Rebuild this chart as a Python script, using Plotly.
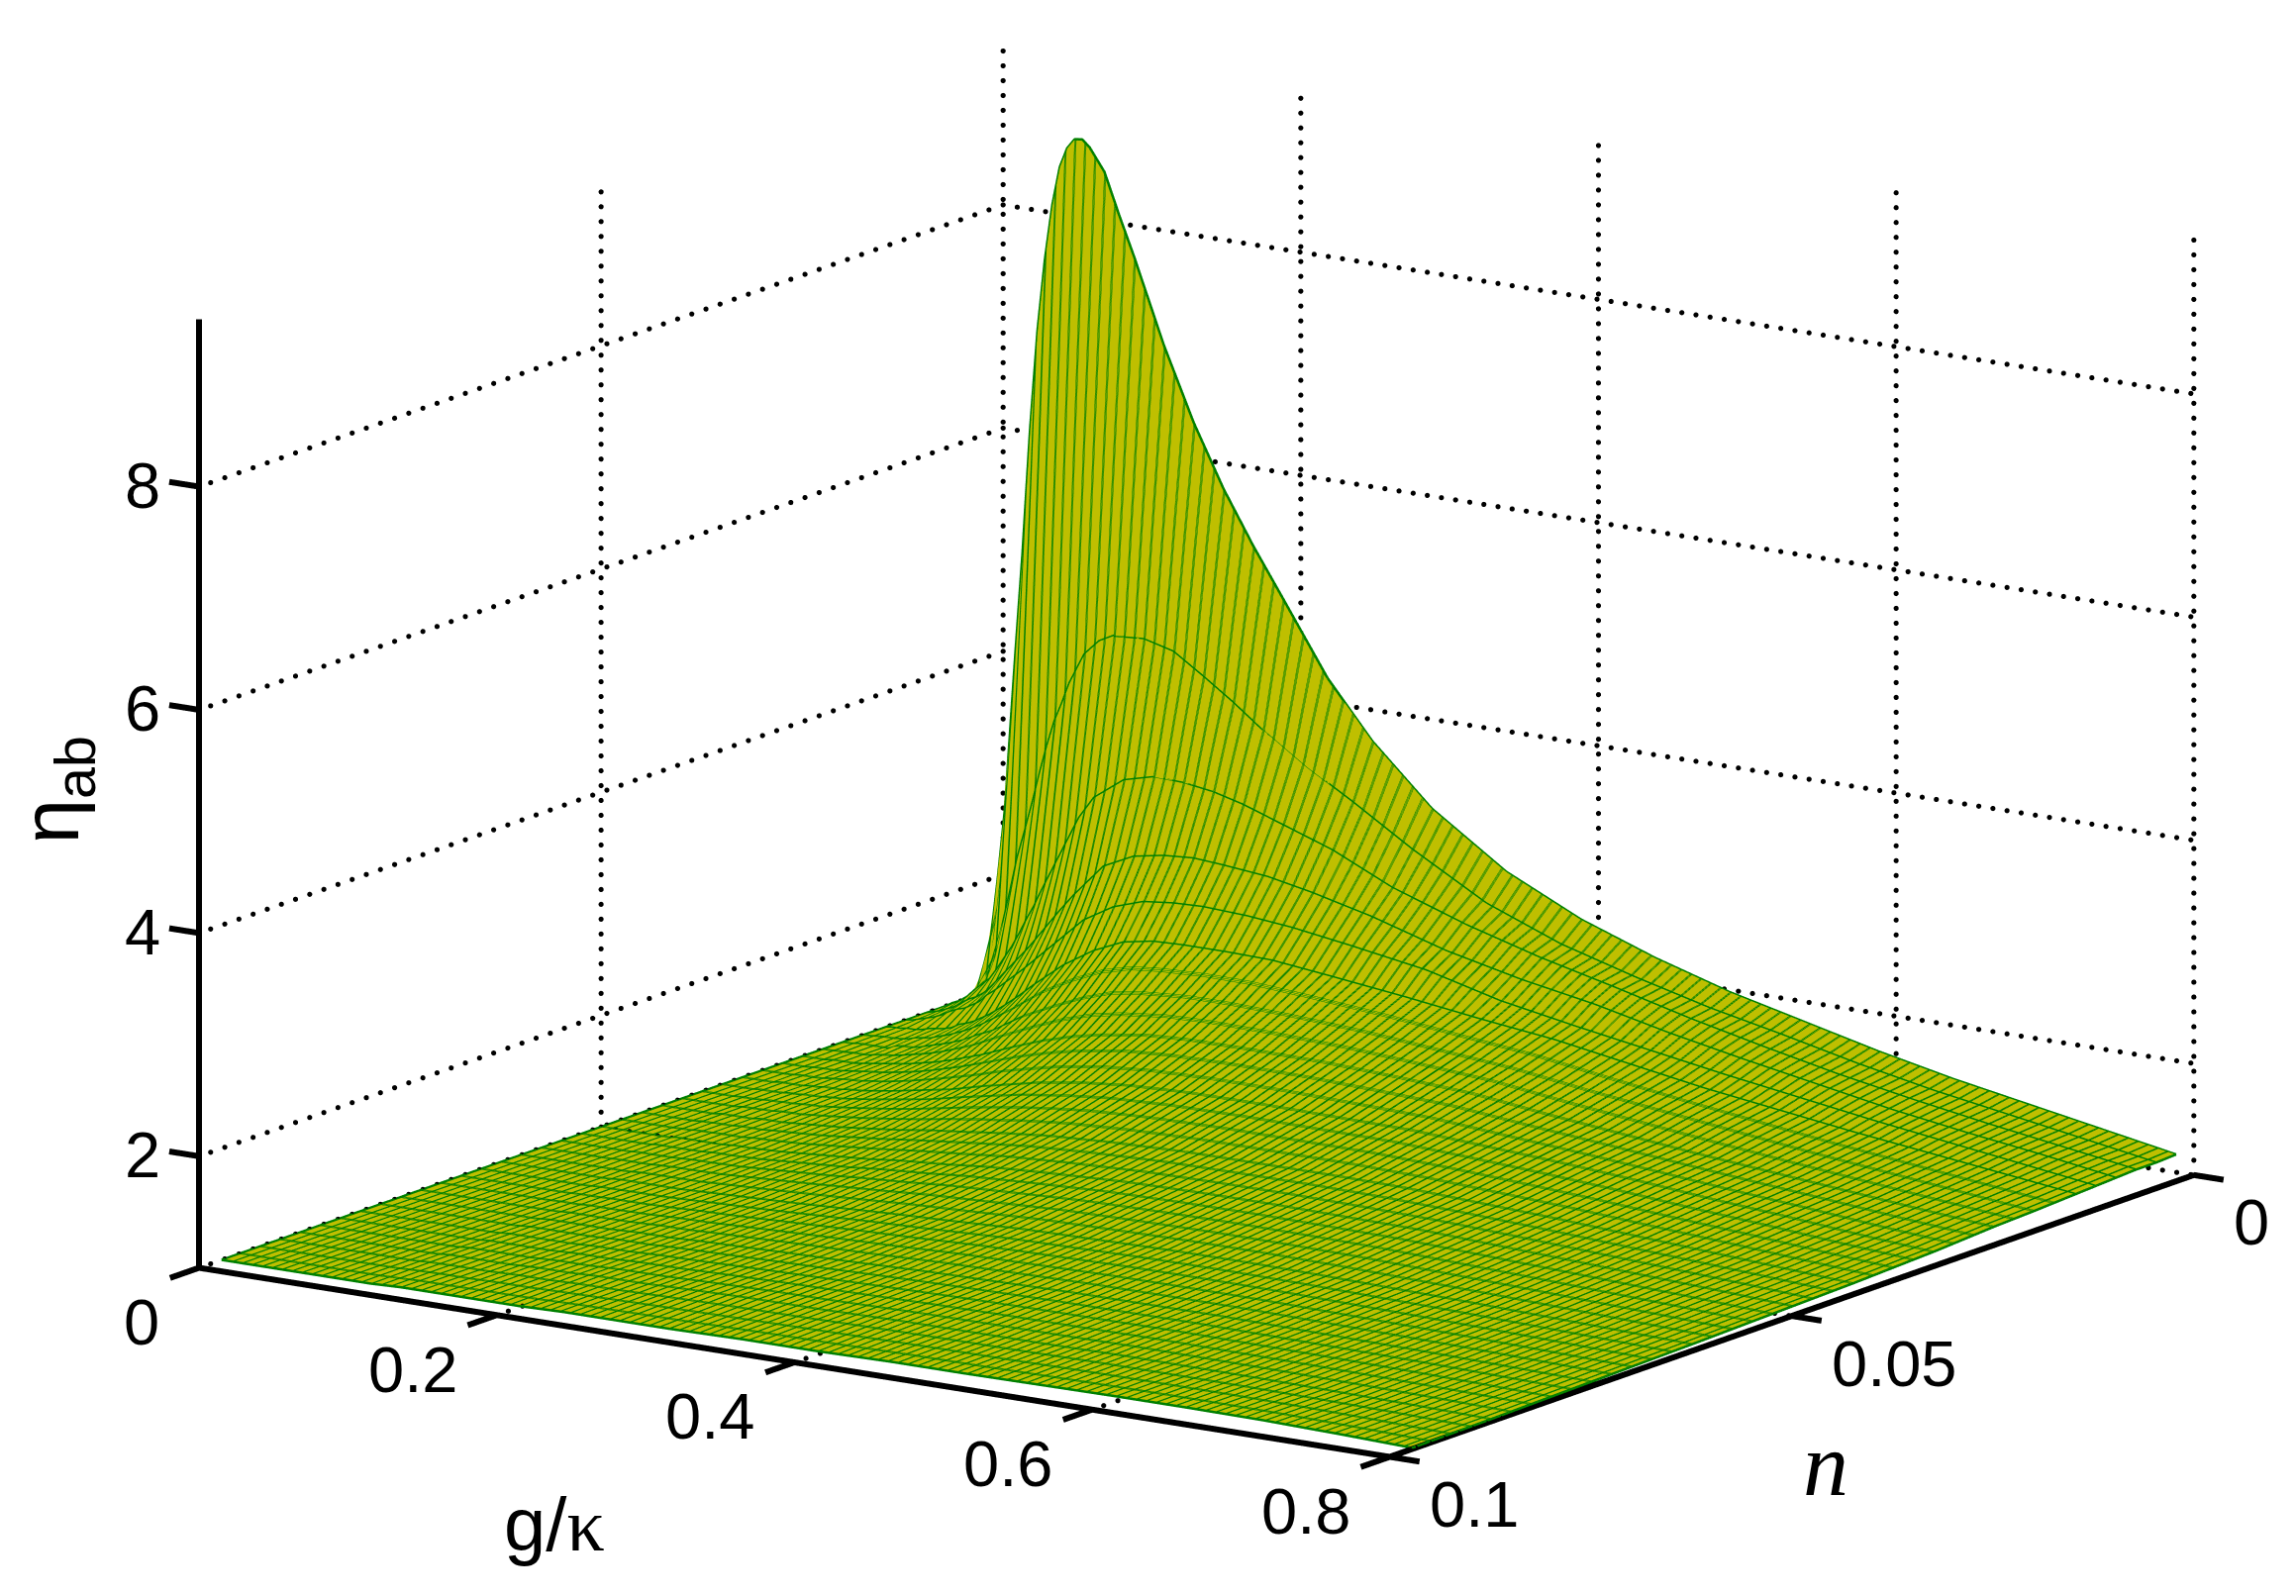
import plotly.graph_objects as go

# ---- data ----
g_values = [0, .005, .01, .015, .02, .025, .03, .035, .04, .045, .05, .055, .06, .065, .07, .08, .09, .1,
            .12, .14, .16, .18, .2, .23, .26, .3, .35, .4, .45, .5, .55, .6, .65, .7, .75, .8]
n_values = [.0022, .0047, .0072, .0097, .0122, .0147, .0197, .0247, .0322, .0422, .0497, .0622, .0747, .0872, .0972]

eta_00 = [1, 1.45, 2.05, 3.05, 4.05, 5.0, 6.1, 7.0, 7.65, 8.15, 8.5, 8.68, 8.77, 8.78, 8.72, 8.52, 8.15, 7.8,
          7.05, 6.4, 5.85, 5.38, 4.95, 4.3, 3.8, 3.28, 2.82, 2.50, 2.26, 2.06, 1.9, 1.74, 1.6, 1.48, 1.36, 1.24]
eta_01 = [1, 1.05, 1.12, 1.23, 1.42, 1.72, 2.02, 2.34, 2.59, 2.85, 3.13, 3.39, 3.62, 3.79, 3.98, 4.26, 4.40, 4.47,
          4.49, 4.42, 4.24, 4.05, 3.84, 3.56, 3.32, 2.98, 2.60, 2.34, 2.15, 1.98, 1.84, 1.69, 1.56, 1.45, 1.34, 1.23]
eta_02 = [1, 1.04, 1.07, 1.12, 1.19, 1.25, 1.31, 1.41, 1.52, 1.63, 1.76, 1.90, 2.03, 2.18, 2.32, 2.60, 2.88, 3.08,
          3.28, 3.35, 3.34, 3.30, 3.23, 3.09, 2.95, 2.70, 2.47, 2.28, 2.12, 1.95, 1.80, 1.66, 1.54, 1.43, 1.33, 1.23]
eta_03 = [1, 1.02, 1.04, 1.07, 1.10, 1.15, 1.19, 1.22, 1.27, 1.34, 1.42, 1.50, 1.58, 1.66, 1.74, 1.92, 2.10, 2.27,
          2.57, 2.70, 2.75, 2.77, 2.75, 2.71, 2.63, 2.50, 2.30, 2.15, 2.03, 1.88, 1.75, 1.63, 1.51, 1.41, 1.32, 1.22]
eta_04 = [1, 1.01, 1.03, 1.05, 1.07, 1.10, 1.14, 1.17, 1.19, 1.23, 1.27, 1.34, 1.39, 1.45, 1.51, 1.63, 1.76, 1.89,
          2.15, 2.31, 2.40, 2.43, 2.44, 2.42, 2.38, 2.30, 2.19, 2.02, 1.90, 1.79, 1.68, 1.58, 1.48, 1.39, 1.30, 1.21]
eta_05 = [1, 1.01, 1.01, 1.02, 1.02, 1.03, 1.05, 1.06, 1.07, 1.09, 1.13, 1.15, 1.18, 1.22, 1.26, 1.36, 1.47, 1.59,
          1.81, 1.98, 2.10, 2.15, 2.16, 2.16, 2.15, 2.09, 2.01, 1.92, 1.84, 1.73, 1.62, 1.53, 1.44, 1.36, 1.28, 1.20]
eta_06 = [1, 1.00, 1.01, 1.01, 1.01, 1.01, 1.01, 1.04, 1.05, 1.05, 1.06, 1.08, 1.10, 1.12, 1.14, 1.19, 1.26, 1.32,
          1.49, 1.62, 1.74, 1.83, 1.87, 1.90, 1.90, 1.88, 1.84, 1.78, 1.72, 1.63, 1.55, 1.47, 1.39, 1.32, 1.25, 1.18]
eta_07 = [1, 1.00, 1.00, 1.00, 1.01, 1.01, 1.01, 1.01, 1.02, 1.03, 1.04, 1.05, 1.06, 1.07, 1.08, 1.11, 1.14, 1.18,
          1.27, 1.38, 1.48, 1.56, 1.62, 1.68, 1.70, 1.70, 1.69, 1.66, 1.62, 1.54, 1.47, 1.40, 1.34, 1.28, 1.22, 1.165]
eta_08 = [1, 1.00, 1.00, 1.00, 1.00, 1.01, 1.01, 1.01, 1.01, 1.02, 1.02, 1.03, 1.03, 1.03, 1.04, 1.05, 1.07, 1.09,
          1.14, 1.19, 1.26, 1.32, 1.38, 1.44, 1.48, 1.50, 1.50, 1.49, 1.48, 1.44, 1.40, 1.35, 1.29, 1.24, 1.18, 1.13]
eta_09 = [1, 1.00, 1.00, 1.00, 1.00, 1.00, 1.00, 1.00, 1.01, 1.01, 1.01, 1.01, 1.01, 1.02, 1.02, 1.02, 1.03, 1.04,
          1.06, 1.09, 1.12, 1.16, 1.19, 1.24, 1.28, 1.31, 1.33, 1.33, 1.33, 1.32, 1.29, 1.26, 1.22, 1.18, 1.14, 1.10]
eta_10 = [1, 1.00, 1.00, 1.00, 1.00, 1.00, 1.00, 1.00, 1.00, 1.00, 1.01, 1.01, 1.01, 1.01, 1.01, 1.01, 1.02, 1.02,
          1.03, 1.05, 1.07, 1.09, 1.12, 1.15, 1.19, 1.22, 1.25, 1.26, 1.26, 1.25, 1.24, 1.21, 1.18, 1.15, 1.12, 1.085]
eta_11 = [1, 1.00, 1.00, 1.00, 1.00, 1.00, 1.00, 1.00, 1.00, 1.00, 1.00, 1.00, 1.00, 1.00, 1.00, 1.01, 1.01, 1.01,
          1.01, 1.02, 1.03, 1.04, 1.05, 1.07, 1.09, 1.11, 1.14, 1.15, 1.16, 1.16, 1.15, 1.135, 1.12, 1.10, 1.08, 1.06]
eta_12 = [1, 1.00, 1.00, 1.00, 1.00, 1.00, 1.00, 1.00, 1.00, 1.00, 1.00, 1.00, 1.00, 1.00, 1.00, 1.00, 1.00, 1.01,
          1.01, 1.01, 1.02, 1.02, 1.03, 1.04, 1.05, 1.06, 1.08, 1.09, 1.10, 1.10, 1.10, 1.09, 1.08, 1.07, 1.055, 1.04]
eta_13 = [1, 1.00, 1.00, 1.00, 1.00, 1.00, 1.00, 1.00, 1.00, 1.00, 1.00, 1.00, 1.00, 1.00, 1.00, 1.00, 1.00, 1.01,
          1.01, 1.01, 1.02, 1.02, 1.03, 1.03, 1.04, 1.05, 1.05, 1.06, 1.06, 1.06, 1.065, 1.06, 1.055, 1.045, 1.035, 1.02]
eta_14 = [1, 1.00, 1.00, 1.00, 1.00, 1.00, 1.00, 1.00, 1.00, 1.00, 1.00, 1.00, 1.00, 1.00, 1.00, 1.00, 1.00, 1.00,
          1.01, 1.01, 1.01, 1.01, 1.01, 1.02, 1.02, 1.02, 1.03, 1.03, 1.04, 1.04, 1.045, 1.05, 1.05, 1.045, 1.03, 1.01]
eta = [eta_00, eta_01, eta_02, eta_03, eta_04, eta_05, eta_06, eta_07, eta_08, eta_09, eta_10, eta_11, eta_12,
       eta_13, eta_14]

g_ticks = [0, .2, .4, .6, .8]
g_tick_text = ["0", "0.2", "0.4", "0.6", "0.8"]
n_ticks = [0, .05, .1]
n_tick_text = ["0", "0.05", "0.1"]
z_ticks = [2, 4, 6, 8]
z_tick_text = ["2", "4", "6", "8"]
g_lim = [0, .8]
n_lim = [0, .1]
z_lim = [1, 9.5]

# ---- styles ----
FACE = "#BFBF00"
MESH = "#008000"
TICK_FONT = dict(family="Liberation Sans", size=65, color="black")
G_TICK_LEN = .02       # ticks pointing along g
N_TICK_LEN = .0036     # ticks pointing along n
DOT_G, DOT_N, DOT_Z = .0095, .00176, .133   # dot pitch of the dotted grid along each axis
MESH_G, MESH_N = .00667, .0025              # mesh pitch
STROKE_G, STROKE_N = .0005, .00017          # side-by-side contour offset that thickens the 1px mesh
STEEP_ROWS = 6                              # the rows over the hump get their own thick line

fig = go.Figure()

def steps(a, b, pitch):
    out, v = [], a
    while v <= b + 1e-9:
        out.append(v)
        v += pitch
    return out

# dotted walls and floor, as a row of small marks
gx, gy, gz = [], [], []
def dots_g(n, z):
    for g in steps(g_lim[0], g_lim[1], DOT_G):
        gx.append(g); gy.append(n); gz.append(z)
def dots_n(g, z):
    for n in steps(n_lim[0], n_lim[1], DOT_N):
        gx.append(g); gy.append(n); gz.append(z)
def dots_z(g, n):
    for z in steps(z_lim[0], z_lim[1], DOT_Z):
        gx.append(g); gy.append(n); gz.append(z)
for z in [z_lim[0]] + z_ticks:
    dots_n(g_lim[0], z)
    dots_g(n_lim[0], z)
for g in g_ticks:
    dots_z(g, n_lim[0])
    dots_n(g, z_lim[0])
for n in n_ticks:
    dots_z(g_lim[0], n)
    dots_g(n, z_lim[0])
fig.add_trace(go.Scatter3d(x=gx, y=gy, z=gz, mode="markers", hoverinfo="skip", showlegend=False,
                           marker=dict(color="black", size=3, symbol="circle", line=dict(width=0))))

# surface, drawn three times so the 1px contour mesh gets a thicker stroke
for k in (0, 1, 2):
    y_start = n_values[0] if k == 0 else n_values[STEEP_ROWS - 1] + MESH_N + k * STROKE_N
    fig.add_trace(go.Surface(
        x=g_values, y=n_values, z=eta, showscale=False, hoverinfo="skip",
        colorscale=[[0, FACE], [1, FACE]],
        lighting=dict(ambient=1, diffuse=0, specular=0, roughness=1, fresnel=0),
        contours=dict(
            x=dict(show=True, start=k * STROKE_G, end=g_lim[1], size=MESH_G, color=MESH, width=1, highlight=False),
            y=dict(show=True, start=y_start, end=.0982, size=MESH_N, color=MESH, width=1, highlight=False),
            z=dict(show=False, highlight=False),
        ),
    ))

# the steep rows and the rim of the sheet, straight from the table
rx, ry, rz = [], [], []
for n, row in list(zip(n_values, eta))[:STEEP_ROWS] + [(n_values[-1], eta[-1])]:
    rx.extend(g_values + [None]); ry.extend([n] * len(g_values) + [None]); rz.extend(row + [None])
for col in (0, len(g_values) - 1):
    rx.extend([g_values[col]] * len(n_values) + [None])
    ry.extend(n_values + [None])
    rz.extend([row[col] for row in eta] + [None])
fig.add_trace(go.Scatter3d(x=rx, y=ry, z=rz, mode="lines", hoverinfo="skip", showlegend=False,
                           line=dict(color=MESH, width=5)))

# solid axes and ticks
ax, ay, az = [], [], []
def aseg(p, q):
    ax.extend([p[0], q[0], None]); ay.extend([p[1], q[1], None]); az.extend([p[2], q[2], None])
aseg((g_lim[0], n_lim[1], z_lim[0]), (g_lim[1], n_lim[1], z_lim[0]))
aseg((g_lim[1], n_lim[1], z_lim[0]), (g_lim[1], n_lim[0], z_lim[0]))
aseg((g_lim[0], n_lim[1], z_lim[0]), (g_lim[0], n_lim[1], z_lim[1]))
for g in g_ticks:
    aseg((g, n_lim[1], z_lim[0]), (g, n_lim[1] + N_TICK_LEN, z_lim[0]))
for n in n_ticks:
    aseg((g_lim[1], n, z_lim[0]), (g_lim[1] + G_TICK_LEN, n, z_lim[0]))
for z in z_ticks:
    aseg((g_lim[0], n_lim[1], z), (g_lim[0] - G_TICK_LEN, n_lim[1], z))
fig.add_trace(go.Scatter3d(x=ax, y=ay, z=az, mode="lines", hoverinfo="skip", showlegend=False,
                           line=dict(color="black", width=12)))

# tick labels
ann = []
for v, t in zip(g_ticks, g_tick_text):
    ann.append(dict(x=v, y=n_lim[1], z=z_lim[0], text=t, showarrow=False, font=TICK_FONT,
                    xanchor="right", yanchor="middle", xshift=-38, yshift=-55))
for v, t in zip(n_ticks, n_tick_text):
    ann.append(dict(x=g_lim[1], y=v, z=z_lim[0], text=t, showarrow=False, font=TICK_FONT,
                    xanchor="left", yanchor="middle", xshift=38, yshift=-48))
for v, t in zip(z_ticks, z_tick_text):
    ann.append(dict(x=g_lim[0], y=n_lim[1], z=v, text=t, showarrow=False, font=TICK_FONT,
                    xanchor="right", yanchor="middle", xshift=-37, yshift=1))

hidden = dict(visible=False, showgrid=False, zeroline=False, showticklabels=False, showspikes=False,
              showbackground=False)
fig.update_layout(
    width=2319, height=1612, margin=dict(l=0, r=0, t=0, b=0), paper_bgcolor="white", showlegend=False,
    scene=dict(
        domain=dict(x=[0, 1], y=[0, 1]),
        xaxis=dict(range=[-.025, .825], **hidden),
        yaxis=dict(range=[.105, -.005], **hidden),
        zaxis=dict(range=[.9, 9.6], **hidden),
        aspectmode="manual",
        aspectratio=dict(x=1.911, y=1.985, z=1.252),
        camera=dict(projection=dict(type="orthographic"),
                    eye=dict(x=1.0528, y=-1.6551, z=.4002),
                    center=dict(x=-.0324, y=-.0427, z=-.0716),
                    up=dict(x=0, y=0, z=1)),
        annotations=ann,
    ),
    annotations=[
        dict(xref="paper", yref="paper", x=499 / 2319, y=1 - 1576 / 1612, showarrow=False,
             text='g/<span style="font-family:Liberation Serif">κ</span>',
             font=dict(family="Liberation Sans", size=76, color="black")),
        dict(xref="paper", yref="paper", x=1861 / 2319, y=1 - 1524 / 1612, showarrow=False,
             text="<i>n</i>", font=dict(family="Liberation Serif", size=92, color="black")),
        dict(xref="paper", yref="paper", x=-6 / 2319, y=1 - 790 / 1612, showarrow=False, textangle=-90,
             text="η<sub>ab</sub>", font=dict(family="Liberation Sans", size=82, color="black")),
    ],
)

fig.write_html("out.html")
